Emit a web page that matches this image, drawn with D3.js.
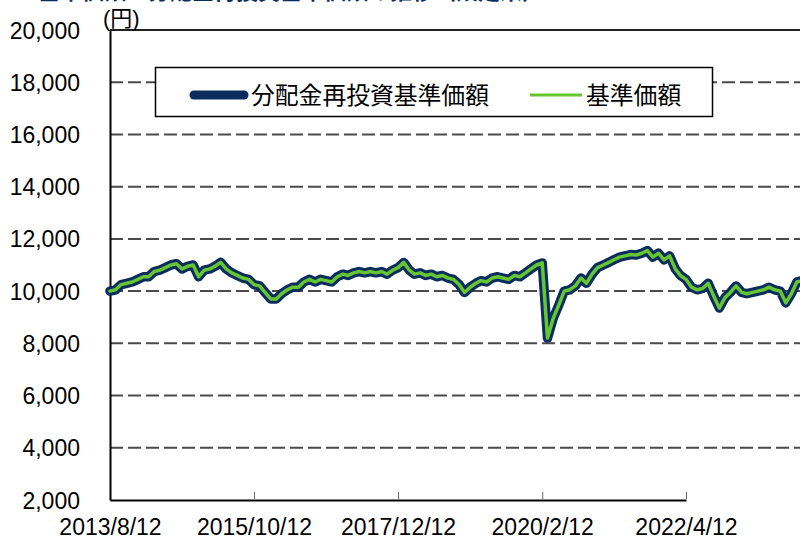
<!DOCTYPE html>
<html>
<head>
<meta charset="utf-8">
<script src="https://cdn.jsdelivr.net/npm/d3@7/dist/d3.min.js"></script>
<style>
    body { margin: 0; background: #fff; }
    svg { display: block; }
</style>
</head>
<body>
<svg id="chart" width="800" height="539"></svg>
<script>
// monthly NAV readings starting 2013/8/12 (values in yen)
var startDate = "2013-08-12",
    navValues = [
        10000, 10050, 10250, 10300, 10350, 10450, 10550, 10550, 10750, 10800, 10900, 11000,
        11050, 10850, 10950, 11000, 10550, 10800, 10850, 10950, 11100, 10850, 10700, 10600,
        10500, 10450, 10250, 10200, 9950, 9700, 9700, 9900, 10050, 10150, 10150, 10350,
        10450, 10350, 10450, 10400, 10350, 10550, 10650, 10600, 10700, 10750, 10700, 10750,
        10700, 10750, 10650, 10800, 10900, 11100, 10800, 10650, 10700, 10600, 10650, 10550,
        10600, 10500, 10450, 10250, 9950, 10150, 10300, 10400, 10350, 10500, 10550, 10500,
        10450, 10600, 10550, 10700, 10850, 11000, 11080, 8200, 8950, 9450, 10000, 10050,
        10200, 10500, 10300, 10650, 10900, 11000, 11100, 11200, 11300, 11350, 11400, 11380,
        11450, 11550, 11300, 11450, 11200, 11350, 10850, 10600, 10450, 10150, 10050, 10100,
        10300, 9800, 9350, 9750, 9950, 10200, 9950, 9900, 9950, 10000, 10050, 10150,
        10050, 10000, 9550, 9900, 10350, 10400
    ],
    reinvestValues = navValues.slice(), // no distributions paid, both series coincide
    yTicks = [2000, 4000, 6000, 8000, 10000, 12000, 14000, 16000, 18000, 20000],
    xTickLabels = ["2013/8/12", "2015/10/12", "2017/12/12", "2020/2/12", "2022/4/12"],
    seriesNames = ["分配金再投資基準価額", "基準価額"],
    titleText = "基準価額・分配金再投資基準価額の推移（設定来）";

var navy = "#0a2d5e",
    green = "#66c632",
    numFont = "'Liberation Sans', Arial, sans-serif",
    jpFont = "'Noto Sans CJK JP', sans-serif",
    plotLeft = 110,
    plotTop = 30,
    plotBottom = 500;

var svg = d3.select("#chart"),
    parseDay = d3.timeParse("%Y-%m-%d"),
    parseTick = d3.timeParse("%Y/%m/%d"),
    start = parseDay(startDate);

var data = navValues.map(function (v, i) {
    return {date: d3.timeMonth.offset(start, i), nav: v, reinvest: reinvestValues[i]};
});

// x scale pinned on the first and last labelled dates, runs past the right edge
var x = d3.scaleTime()
    .domain([parseTick(xTickLabels[0]), parseTick(xTickLabels[xTickLabels.length - 1])])
    .range([plotLeft, 686]);
var y = d3.scaleLinear()
    .domain([2000, 20000])
    .range([plotBottom, plotTop]);

// title, mostly above the visible area (only its bottom edge shows)
svg.append("text")
    .attr("x", 38)
    .attr("y", -1)
    .attr("font-family", jpFont)
    .attr("font-weight", "bold")
    .attr("font-size", 22)
    .attr("fill", navy)
    .text(titleText);

// dashed grid
svg.append("g")
    .selectAll("line")
    .data(yTicks.filter(function (d) { return d > 2000 && d < 20000; }))
    .enter().append("line")
        .attr("x1", plotLeft)
        .attr("x2", 800)
        .attr("y1", function (d) { return y(d); })
        .attr("y2", function (d) { return y(d); })
        .attr("stroke", "#4a4a4a")
        .attr("stroke-width", 2)
        .attr("stroke-dasharray", "13,5");

// top border
svg.append("line")
    .attr("x1", plotLeft).attr("x2", 800)
    .attr("y1", y(20000)).attr("y2", y(20000))
    .attr("stroke", "#222").attr("stroke-width", 2);

// y axis
var yAxis = d3.axisLeft(y).tickValues(yTicks).tickSize(0).tickFormat(d3.format(","));
var gy = svg.append("g")
    .attr("transform", "translate(" + plotLeft + ",0)")
    .call(yAxis);
gy.select(".domain").attr("stroke", "#000").attr("stroke-width", 2);
gy.selectAll("text")
    .attr("x", -30)
    .attr("dy", "0.35em")
    .attr("font-family", numFont)
    .attr("font-size", 23)
    .attr("fill", "#000");

// x axis
var xAxis = d3.axisBottom(x)
    .tickValues(xTickLabels.map(parseTick))
    .tickSize(0)
    .tickFormat(function (d, i) { return xTickLabels[i]; });
var gx = svg.append("g")
    .attr("transform", "translate(0," + plotBottom + ")")
    .call(xAxis);
gx.select(".domain").attr("stroke", "#000").attr("stroke-width", 2);
gx.selectAll("text")
    .attr("y", 35)
    .attr("dy", 0)
    .attr("font-family", numFont)
    .attr("font-size", 23)
    .attr("fill", "#000");
// small inner tick marks
gx.selectAll(".tick").append("line")
    .attr("y1", -1)
    .attr("y2", -8)
    .attr("stroke", "#666")
    .attr("stroke-width", 1)
    .attr("opacity", function (d, i) { return i === 0 ? 0 : 1; });

// unit label
svg.append("text")
    .attr("x", 103)
    .attr("y", 26)
    .attr("font-family", "'Liberation Sans', 'Noto Sans CJK JP', sans-serif")
    .attr("font-size", 22)
    .attr("fill", "#000")
    .text("(円)");

// lines
var reinvestLine = d3.line()
    .x(function (d) { return x(d.date); })
    .y(function (d) { return y(d.reinvest); });
var navLine = d3.line()
    .x(function (d) { return x(d.date); })
    .y(function (d) { return y(d.nav); });

svg.append("path")
    .datum(data)
    .attr("d", reinvestLine)
    .attr("fill", "none")
    .attr("stroke", navy)
    .attr("stroke-width", 9.5)
    .attr("stroke-linejoin", "round")
    .attr("stroke-linecap", "round");
svg.append("path")
    .datum(data)
    .attr("d", navLine)
    .attr("fill", "none")
    .attr("stroke", green)
    .attr("stroke-width", 3.5)
    .attr("stroke-linejoin", "round")
    .attr("stroke-linecap", "round");

// legend
var legend = svg.append("g");
legend.append("rect")
    .attr("x", 155.5)
    .attr("y", 67.5)
    .attr("width", 557)
    .attr("height", 49)
    .attr("fill", "#fff")
    .attr("stroke", "#000")
    .attr("stroke-width", 1.5);
legend.append("line")
    .attr("x1", 194).attr("x2", 244)
    .attr("y1", 95).attr("y2", 95)
    .attr("stroke", navy).attr("stroke-width", 9)
    .attr("stroke-linecap", "round");
legend.append("text")
    .attr("x", 251)
    .attr("y", 95)
    .attr("dy", "0.36em")
    .attr("font-family", jpFont)
    .attr("font-size", 23.8)
    .attr("fill", "#000")
    .text(seriesNames[0]);
legend.append("line")
    .attr("x1", 530).attr("x2", 582)
    .attr("y1", 95).attr("y2", 95)
    .attr("stroke", green).attr("stroke-width", 3);
legend.append("text")
    .attr("x", 586)
    .attr("y", 95)
    .attr("dy", "0.36em")
    .attr("font-family", jpFont)
    .attr("font-size", 23.8)
    .attr("fill", "#000")
    .text(seriesNames[1]);
</script>
</body>
</html>
